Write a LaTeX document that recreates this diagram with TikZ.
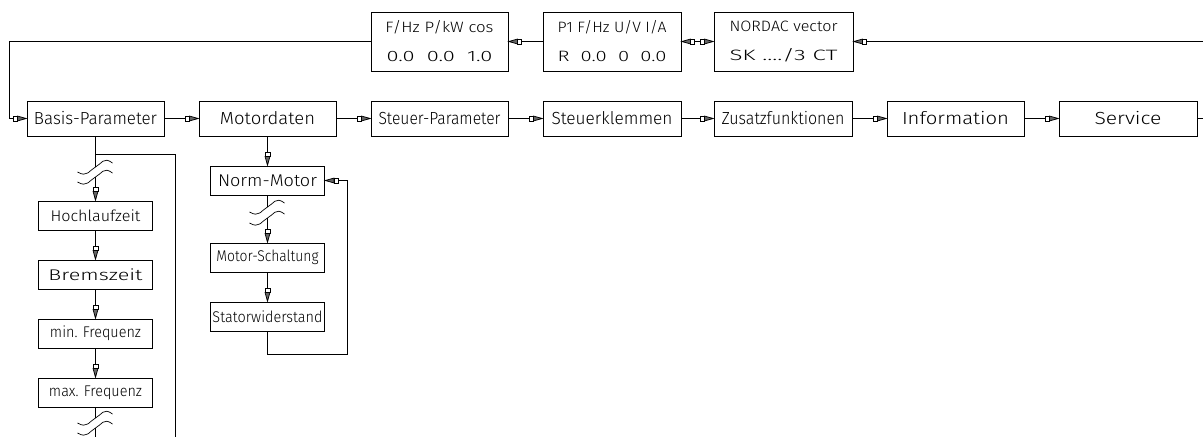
\documentclass[tikz,border=0pt]{standalone}
\usepackage{fontspec}
\usepackage{graphicx}
\setmainfont{Fira Sans Light}
\usetikzlibrary{arrows.meta}
\newcommand\tx[2]{\resizebox{#1pt}{\height}{#2}}
\pgfdeclarearrow{
  name = CAD,
  setup code = {
    \pgfarrowssettipend{0pt}
    \pgfarrowssetlineend{-12pt}
    \pgfarrowsupperhullpoint{0pt}{0pt}
    \pgfarrowsupperhullpoint{-13pt}{2.6pt}
  },
  drawing code = {
    \pgfsetdash{}{0pt}
    \pgfsetlinewidth{0.75pt}
    \pgfpathmoveto{\pgfpoint{-0.4pt}{0pt}}
    \pgfpathlineto{\pgfpoint{-9pt}{2.4pt}}
    \pgfpathlineto{\pgfpoint{-9pt}{-2.4pt}}
    \pgfpathclose
    \pgfsetfillcolor{black!60}
    \pgfusepathqfillstroke
    \pgfpathrectanglecorners{\pgfpoint{-13pt}{-2.4pt}}{\pgfpoint{-9pt}{2.4pt}}
    \pgfsetfillcolor{white}
    \pgfusepathqfillstroke
  },
}
\tikzset{
  ln/.style={line width=0.8pt},
  bx/.style={draw, line width=0.8pt, inner sep=0pt, minimum height=35pt, font=\fontsize{17.5}{18}\selectfont},
  cb/.style={draw, line width=0.8pt, inner sep=0pt, minimum height=29pt, minimum width=114pt, font=\fontsize{15.5}{16}\selectfont},
  tb/.style={draw, line width=0.8pt, inner sep=0pt, minimum height=59pt, align=center, font=\fontsize{15}{29}\selectfont},
  ar/.style={-{CAD}},
  dar/.style={{CAD}-{CAD}},
  brk/.pic={\draw[line width=0.7pt] (-18,5) .. controls (-8,11) and (-6,3) .. (0,0) .. controls (6,-3) and (8,-11) .. (17,-4);}
}
\begin{document}
\begin{tikzpicture}[x=1pt,y=-1pt]
\useasboundingbox (0,0) rectangle (1203,437);
% top row
\node[tb, minimum width=137pt] (t1) at (439.5,41.5) {\tx{108}{F/Hz P/kW cos}\\\tx{106}{0.0\ \ 0.0\ \ 1.0}};
\node[tb, minimum width=138pt] (t2) at (612,41.5) {\tx{109}{P1 F/Hz U/V I/A}\\\tx{109}{R\ \ 0.0\ \ 0\ \ 0.0}};
\node[tb, minimum width=139pt] (t3) at (783.5,41.5) {\tx{108}{NORDAC vector}\\\tx{108}{SK ..../3 CT}};
% main row
\node[bx, minimum width=137pt] (bp) at (95.5,118.5) {\tx{123}{Basis-Parameter}};
\node[bx, minimum width=137pt] (md) at (267.5,118.5) {\tx{95}{Motordaten}};
\node[bx, minimum width=137pt] (sp) at (439.5,118.5) {\tx{122}{Steuer-Parameter}};
\node[bx, minimum width=138pt] (sk) at (612,118.5) {\tx{121}{Steuerklemmen}};
\node[bx, minimum width=138pt] (zf) at (783,118.5) {\tx{123}{Zusatzfunktionen}};
\node[bx, minimum width=137pt] (inf) at (955.5,118.5) {\tx{107}{Information}};
\node[bx, minimum width=138pt] (sv) at (1128,118.5) {\tx{67}{Service}};
% basis column
\node[cb] (hz) at (95.5,215.5) {\tx{90}{Hochlaufzeit}};
\node[cb] (bz) at (95.5,274.5) {\tx{94}{Bremszeit}};
\node[cb] (minf) at (95.5,333.5) {\tx{91}{min. Frequenz}};
\node[cb] (maxf) at (95.5,392.5) {\tx{93}{max. Frequenz}};
% motor column
\node[cb, font=\fontsize{17}{17}\selectfont] (nm) at (267.5,180.5) {\tx{99}{Norm-Motor}};
\node[cb] (ms) at (267.5,257.5) {\tx{102}{Motor-Schaltung}};
\node[cb] (sw) at (267.5,316.5) {\tx{110}{Statorwiderstand}};
% free ends
\coordinate (rtop) at (1203,41.5);
\coordinate (rmain) at (1203,118.5);
% top connectors
\draw[ln,ar] (rtop) -- (t3.east);
\draw[ln,dar] (t2.east) -- (t3.west);
\draw[ln,ar] (t2.west) -- (t1.east);
\draw[ln,ar] (t1.west) -- (9,41.5) -- (9,118.5) -- (bp.west);
% main row connectors
\draw[ln,ar] (bp.east) -- (md.west);
\draw[ln,ar] (md.east) -- (sp.west);
\draw[ln,ar] (sp.east) -- (sk.west);
\draw[ln,ar] (sk.east) -- (zf.west);
\draw[ln,ar] (zf.east) -- (inf.west);
\draw[ln,ar] (inf.east) -- (sv.west);
\draw[ln] (sv.east) -- (rmain);
% basis column
\draw[ln] (bp.south) -- (95.5,167);
\draw[ln] (95.5,154) -- (175,154) -- (175,437);
\pic at (95.5,167) {brk};
\pic at (95.5,177) {brk};
\draw[ln,ar] (95.5,177) -- (hz.north);
\draw[ln,ar] (hz.south) -- (bz.north);
\draw[ln,ar] (bz.south) -- (minf.north);
\draw[ln,ar] (minf.south) -- (maxf.north);
\draw[ln] (maxf.south) -- (95.5,418);
\pic at (95.5,418) {brk};
\pic at (95.5,428) {brk};
\draw[ln] (95.5,428) -- (95.5,437);
% motor column
\draw[ln,ar] (md.south) -- (nm.north);
\draw[ln] (nm.south) -- (267.5,207);
\pic at (267.5,207) {brk};
\pic at (267.5,218) {brk};
\draw[ln,ar] (267.5,218) -- (ms.north);
\draw[ln,ar] (ms.south) -- (sw.north);
\draw[ln,ar] (sw.south) -- (267.5,354) -- (347,354) -- (347,180.5) -- (nm.east);
\end{tikzpicture}
\end{document}
